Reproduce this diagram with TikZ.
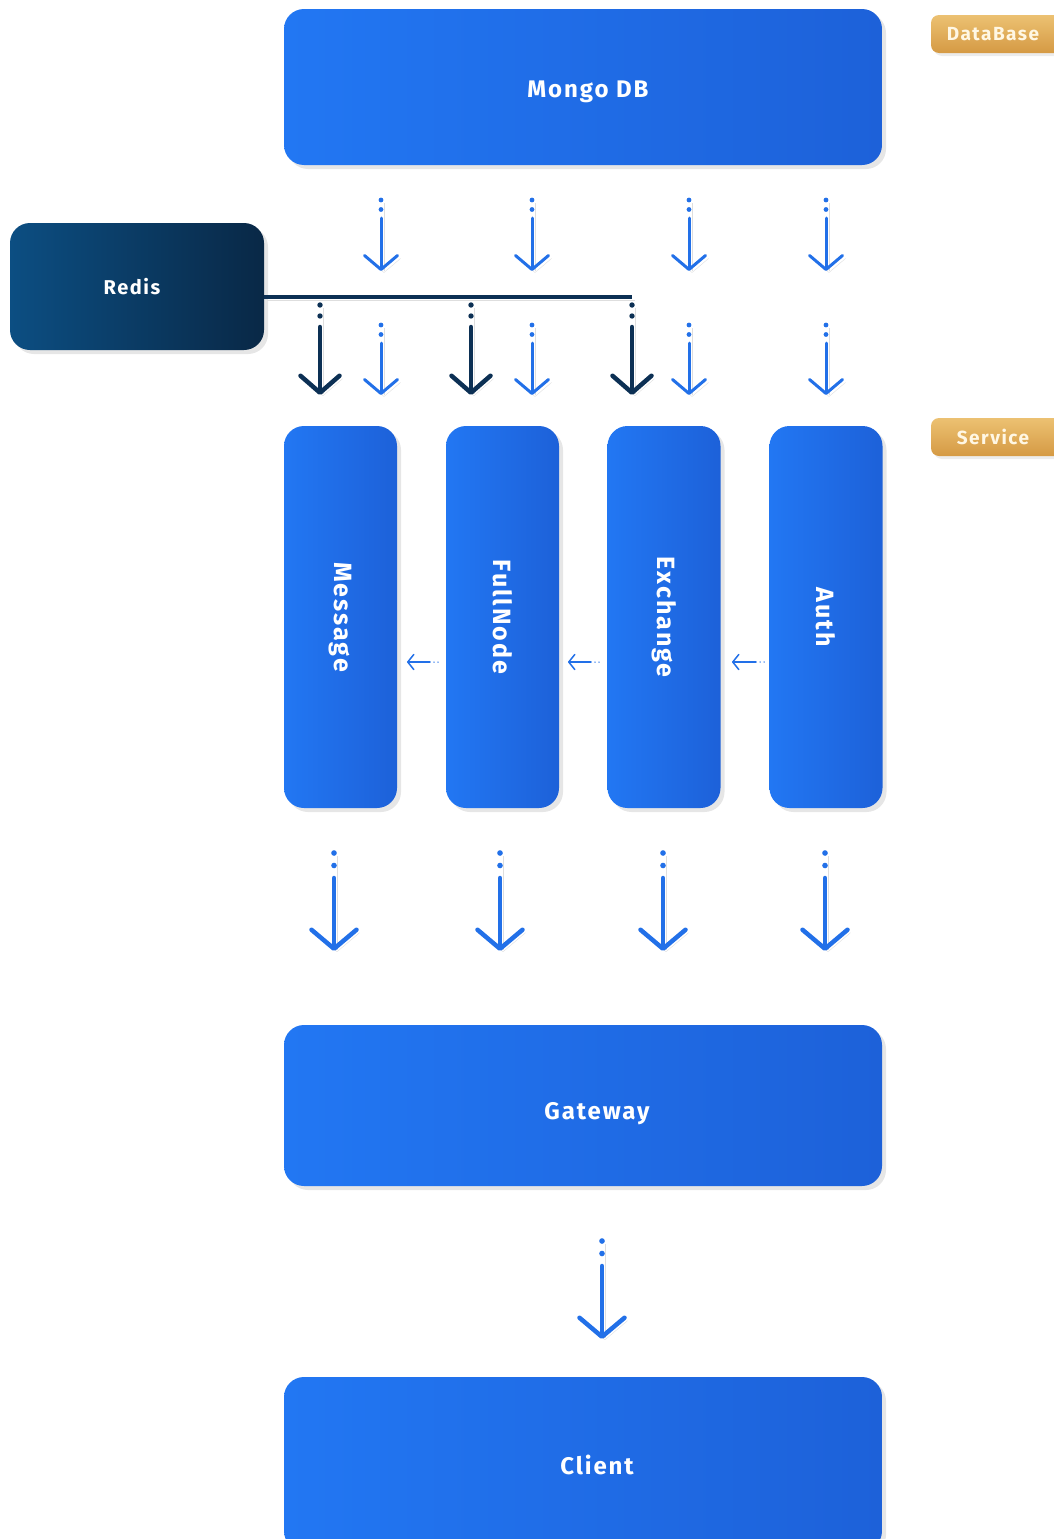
\documentclass[tikz,border=0pt]{standalone}
\usepackage{fontspec}
\setmainfont{Fira Sans}[LetterSpace=8]
\usetikzlibrary{arrows.meta,shadows}
\definecolor{boxblueL}{RGB}{34,119,243}
\definecolor{boxblueR}{RGB}{29,97,217}
\definecolor{redisL}{RGB}{12,78,130}
\definecolor{redisR}{RGB}{9,40,70}
\definecolor{tagT}{RGB}{236,193,114}
\definecolor{tagB}{RGB}{213,154,68}
\definecolor{tagtext}{RGB}{255,247,228}
\definecolor{flowblue}{RGB}{34,112,232}
\definecolor{flownavy}{RGB}{12,48,84}
\begin{document}
\begin{tikzpicture}[x=1pt,y=-1pt,
  box/.style={rounded corners=20pt, left color=boxblueL, right color=boxblueR, draw=none, text=white,
    font=\fontsize{24}{28}\selectfont\bfseries,
    drop shadow={shadow xshift=4pt, shadow yshift=-4pt, opacity=0.2}},
  wide/.style={box, minimum width=598pt, text depth=0pt, text height=27pt},
  svc/.style={box, minimum width=113pt, minimum height=382pt, font=\fontsize{25}{29}\selectfont\bfseries},
  redisbox/.style={box, left color=redisL, right color=redisR, minimum width=254pt, minimum height=127pt,
    font=\fontsize{20}{24}\selectfont\bfseries},
  tag/.style={rounded corners=8pt, top color=tagT, bottom color=tagB, text=tagtext, minimum width=140pt,
    minimum height=38pt, font=\fontsize{19}{22}\selectfont\bfseries,
    drop shadow={shadow xshift=3pt, shadow yshift=-3pt, opacity=0.15}},
  arrshadow/.style={preaction={draw=black!13, transform canvas={shift={(3pt,-3pt)}}}},
  flow/.style={draw=flowblue, line width=3pt, line cap=round, arrshadow,
    dash pattern=on 0pt off 18pt on 300pt off 0pt,
    -{Straight Barb[length=14pt, width=33pt, round]}},
  bigflow/.style={flow, line width=4.5pt,
    dash pattern=on 0pt off 25pt on 300pt off 0pt,
    -{Straight Barb[length=19pt, width=45pt, round]}},
  redisflow/.style={bigflow, draw=flownavy,
    dash pattern=on 0pt off 22pt on 300pt off 0pt,
    -{Straight Barb[length=17pt, width=39pt, round]}},
  sideflow/.style={draw=flowblue, line width=1.5pt, line cap=round,
    dash pattern=on 0pt off 4pt on 0pt off 4pt on 100pt off 0pt,
    -{Straight Barb[length=6pt, width=15pt, round]}},
  flowdot/.style={fill=flowblue},
  navydot/.style={fill=flownavy}
]
\useasboundingbox (0,0) rectangle (1053,1539);

% boxes
\node[wide, minimum height=156pt, text height=21pt] (mongo) at (583,87) {\hspace*{10pt}Mongo DB};
\node[redisbox] (redis) at (137,286.5) {\hspace*{-10pt}Redis};
\node[svc] (message) at (340.5,617) {\rotatebox[origin=c]{-90}{Message}};
\node[svc] (fullnode) at (502.5,617) {\rotatebox[origin=c]{-90}{FullNode}};
\node[svc] (exchange) at (664,617) {\rotatebox[origin=c]{-90}{Exchange}};
\node[svc] (auth) at (826,617) {\rotatebox[origin=c]{-90}{Auth}};
\node[wide, minimum height=161pt] (gateway) at (583,1105.5) {\hspace*{28pt}Gateway};
\node[wide, minimum height=174pt, text height=21pt] (client) at (583,1464) {\hspace*{28pt}Client};

% tags
\node[tag] (dbtag) at (1001,34) {\hspace*{-16pt}DataBase};
\node[tag] (svctag) at (1001,437) {\hspace*{-16pt}Service};

% mongo -> services
\coordinate (d1) at (381,200); \coordinate (d1e) at (381,271);
\coordinate (d2) at (532,200); \coordinate (d2e) at (532,271);
\coordinate (d3) at (689,200); \coordinate (d3e) at (689,271);
\coordinate (d4) at (826,200); \coordinate (d4e) at (826,271);
\path[flow] (d1) -- (d1e);
\path[flow] (d2) -- (d2e);
\path[flow] (d3) -- (d3e);
\path[flow] (d4) -- (d4e);
\coordinate (s1) at (381,325); \coordinate (s1e) at (381,395);
\coordinate (s2) at (532,325); \coordinate (s2e) at (532,395);
\coordinate (s3) at (689,325); \coordinate (s3e) at (689,395);
\coordinate (s4) at (826,325); \coordinate (s4e) at (826,395);
\path[flow] (s1) -- (s1e);
\path[flow] (s2) -- (s2e);
\path[flow] (s3) -- (s3e);
\path[flow] (s4) -- (s4e);
\foreach \p in {d1,d2,d3,d4,s1,s2,s3,s4}
  \path[flowdot] (\p) circle (2.4) ++(0,9.5) circle (2.4);

% redis bus
\coordinate (bus) at (632,297);
\path[draw, flownavy, line width=4pt, arrshadow] (redis.east |- bus) -- (bus);
\coordinate (r1) at (320,305); \coordinate (r1e) at (320,395);
\coordinate (r2) at (471,305); \coordinate (r2e) at (471,395);
\coordinate (r3) at (632,305); \coordinate (r3e) at (632,395);
\path[redisflow] (r1) -- (r1e);
\path[redisflow] (r2) -- (r2e);
\path[redisflow] (r3) -- (r3e);
\foreach \p in {r1,r2,r3}
  \path[navydot] (\p) circle (2.7) ++(0,11) circle (2.7);

% between services
\coordinate (a1) at (438,662); \coordinate (a1e) at (407,662);
\coordinate (a2) at (599,662); \coordinate (a2e) at (568,662);
\coordinate (a3) at (764,662); \coordinate (a3e) at (732,662);
\path[sideflow] (a1) -- (a1e);
\path[sideflow] (a2) -- (a2e);
\path[sideflow] (a3) -- (a3e);

% services -> gateway
\coordinate (g1) at (334,853); \coordinate (g1e) at (334,951);
\coordinate (g2) at (500,853); \coordinate (g2e) at (500,951);
\coordinate (g3) at (663,853); \coordinate (g3e) at (663,951);
\coordinate (g4) at (825,853); \coordinate (g4e) at (825,951);
\path[bigflow] (g1) -- (g1e);
\path[bigflow] (g2) -- (g2e);
\path[bigflow] (g3) -- (g3e);
\path[bigflow] (g4) -- (g4e);

% gateway -> client
\coordinate (c1) at (602,1241); \coordinate (c1e) at (602,1339);
\path[bigflow] (c1) -- (c1e);
\foreach \p in {g1,g2,g3,g4,c1}
  \path[flowdot] (\p) circle (2.8) ++(0,12.5) circle (2.8);
\end{tikzpicture}
\end{document}
